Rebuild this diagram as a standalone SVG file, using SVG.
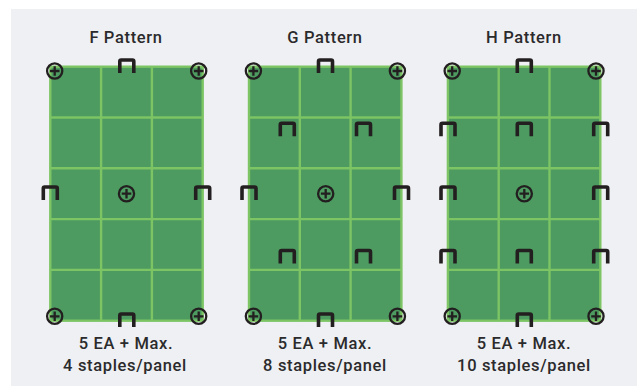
<svg xmlns="http://www.w3.org/2000/svg" width="637" height="386" viewBox="0 0 637 386">
<style>
.t{font-family:"Roboto","Liberation Sans",sans-serif;font-size:16.5px;font-weight:500;fill:#2b2a2c;text-anchor:middle;letter-spacing:.65px}
.g{fill:none;stroke:#7cc464;stroke-width:2.4}
.b{fill:#4d9b60;stroke:#7cc464;stroke-width:2.4}
.s{fill:none;stroke:#231f20;stroke-width:3.6;stroke-linejoin:round}
.c{fill:none;stroke:#231f20;stroke-width:2.3}
</style>
<defs>
<g id="panel">
<rect class="b" x="0" y="0" width="152.4" height="254"/>
<path class="g" d="M50.8 0V254M101.6 0V254M0 50.8H152.4M0 101.6H152.4M0 152.4H152.4M0 203.2H152.4"/>
</g>
<path id="st" class="s" d="M-7 14.5V2.9Q-7 1.5-5.6 1.5H5.6Q7 1.5 7 2.9V14.5"/>
<g id="sc"><circle class="c" r="7.6"/><path class="c" d="M-4.8 0H4.8M0-4.8V4.8"/></g>
</defs>
<rect x="11" y="9" width="626" height="377" fill="#eff0f3"/>
<g id="f-pattern">
<text class="t" x="126" y="43">F Pattern</text>
<use href="#panel" x="50.3" y="66.7"/>
<use href="#st" x="126.8" y="58.5"/><use href="#st" x="126.8" y="312.5"/>
<use href="#st" x="50.3" y="185.5"/><use href="#st" x="202.7" y="185.5"/>
<use href="#sc" x="54.7" y="71"/><use href="#sc" x="198.7" y="71"/><use href="#sc" x="126.5" y="193.7"/><use href="#sc" x="54.7" y="316.3"/><use href="#sc" x="198.7" y="316.3"/>
<text class="t" x="126" y="349">5 EA + Max.</text>
<text class="t" x="125" y="371">4 staples/panel</text>
</g>
<g id="g-pattern">
<text class="t" x="325" y="43">G Pattern</text>
<use href="#panel" x="249" y="66.7"/>
<use href="#st" x="325.5" y="58.5"/><use href="#st" x="325.5" y="312.5"/>
<use href="#st" x="287.3" y="121.8"/><use href="#st" x="363.5" y="121.8"/>
<use href="#st" x="249" y="185.5"/><use href="#st" x="401.5" y="185.5"/>
<use href="#st" x="287.3" y="249"/><use href="#st" x="363.5" y="249"/>
<use href="#sc" x="253.4" y="71"/><use href="#sc" x="397.4" y="71"/><use href="#sc" x="325.7" y="193.7"/><use href="#sc" x="253.4" y="316.3"/><use href="#sc" x="397.4" y="316.3"/>
<text class="t" x="325" y="349">5 EA + Max.</text>
<text class="t" x="325" y="371">8 staples/panel</text>
</g>
<g id="h-pattern">
<text class="t" x="524" y="43">H Pattern</text>
<use href="#panel" x="447.9" y="66.7"/>
<use href="#st" x="524.3" y="58.5"/><use href="#st" x="524.3" y="312.5"/>
<use href="#st" x="448" y="121.8"/><use href="#st" x="524.3" y="121.8"/><use href="#st" x="600.7" y="121.8"/>
<use href="#st" x="448" y="185.5"/><use href="#st" x="600.7" y="185.5"/>
<use href="#st" x="448" y="249"/><use href="#st" x="524.3" y="249"/><use href="#st" x="600.7" y="249"/>
<use href="#sc" x="452.2" y="71"/><use href="#sc" x="596" y="71"/><use href="#sc" x="524.3" y="193.7"/><use href="#sc" x="452.2" y="316.3"/><use href="#sc" x="596" y="316.3"/>
<text class="t" x="524" y="349">5 EA + Max.</text>
<text class="t" x="524" y="371">10 staples/panel</text>
</g>
</svg>
